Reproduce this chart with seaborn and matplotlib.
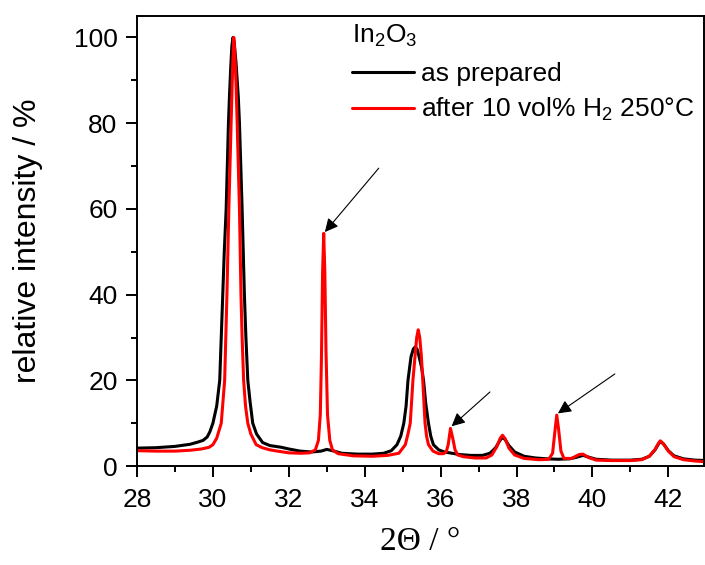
import matplotlib
matplotlib.use("Agg")
import matplotlib.pyplot as plt
import seaborn as sns
from matplotlib.ticker import MultipleLocator, AutoMinorLocator
from matplotlib.lines import Line2D

sns.set_style("ticks")
plt.rcParams['font.family'] = ['Liberation Sans', 'DejaVu Sans']
plt.rcParams['mathtext.fontset'] = 'custom'
plt.rcParams['mathtext.rm'] = 'Liberation Sans'
plt.rcParams['text.color'] = 'black'
plt.rcParams['axes.labelcolor'] = 'black'

# as prepared (black)
x_prep = [28.0, 28.5, 29.0, 29.4, 29.6, 29.74, 29.85, 29.92, 30.0, 30.1, 30.18,
          30.22, 30.26, 30.30, 30.35, 30.38, 30.41, 30.44, 30.47, 30.50, 30.53,
          30.56, 30.61, 30.67, 30.70, 30.735, 30.77, 30.80, 30.83, 30.87, 30.92,
          30.98, 31.05, 31.15, 31.31, 31.5, 31.8, 32.0, 32.3, 32.6, 32.85, 33.0,
          33.15, 33.4, 33.8, 34.2, 34.5, 34.7, 34.85, 34.95, 35.03, 35.09, 35.14,
          35.22, 35.28, 35.33, 35.38, 35.42, 35.5, 35.55, 35.61, 35.68, 35.74,
          35.81, 35.95, 36.1, 36.3, 36.5, 36.8, 37.1, 37.3, 37.45, 37.55, 37.62,
          37.7, 37.8, 37.95, 38.2, 38.5, 38.8, 39.1, 39.4, 39.6, 39.75, 39.9,
          40.1, 40.5, 41.0, 41.3, 41.5, 41.65, 41.75, 41.8, 41.88, 42.0, 42.15,
          42.4, 42.7, 43.0]
y_prep = [4.2, 4.3, 4.6, 5.1, 5.6, 6.0, 6.8, 8.0, 10, 14, 20,
          30, 40, 50, 60, 70, 80, 87, 93, 98, 100,
          99, 94, 86, 80, 70, 60, 50, 40, 30, 20,
          15, 10, 7.5, 5.5, 4.8, 4.4, 4.0, 3.5, 3.3, 3.5, 3.9,
          3.6, 3.0, 2.8, 2.8, 3.0, 3.6, 5.0, 7.0, 10, 14, 20,
          25.5, 27.3, 27.8, 27.3, 26, 23, 20, 14.5, 10, 7,
          5.0, 3.8, 3.3, 3.0, 2.7, 2.5, 2.5, 3.0, 4.3, 5.8, 6.7,
          6.2, 4.8, 3.3, 2.3, 1.9, 1.7, 1.6, 1.7, 2.1, 2.5, 2.1,
          1.6, 1.4, 1.4, 1.6, 2.3, 3.8, 5.3, 5.7, 5.1, 3.6, 2.4,
          1.7, 1.4, 1.3]

# after 10 vol% H2 250°C (red)
x_h2 = [28.0, 28.5, 29.0, 29.4, 29.7, 29.9, 30.0, 30.1, 30.22, 30.31, 30.34,
        30.37, 30.395, 30.42, 30.45, 30.48, 30.52, 30.55, 30.58, 30.61, 30.64,
        30.67, 30.70, 30.72, 30.74, 30.77, 30.81, 30.86, 30.92, 31.0, 31.14,
        31.3, 31.5, 31.7, 32.0, 32.3, 32.55, 32.7, 32.78, 32.83, 32.86, 32.89,
        32.92, 32.95, 32.98, 33.02, 33.08, 33.15, 33.3, 33.7, 34.2, 34.6, 34.9,
        35.07, 35.14, 35.2, 35.27, 35.33, 35.37, 35.41, 35.45, 35.49, 35.53,
        35.59, 35.63, 35.68, 35.8, 35.95, 36.08, 36.15, 36.2, 36.26, 36.32,
        36.38, 36.45, 36.6, 36.9, 37.2, 37.35, 37.48, 37.57, 37.63, 37.7,
        37.8, 37.95, 38.2, 38.6, 38.85, 38.95, 39.01, 39.06, 39.11, 39.17,
        39.25, 39.45, 39.65, 39.75, 39.9, 40.1, 40.5, 41.0, 41.3, 41.5, 41.65,
        41.75, 41.79, 41.86, 42.0, 42.15, 42.4, 42.7, 43.0]
y_h2 = [3.6, 3.5, 3.5, 3.7, 4.0, 4.4, 5.0, 6.5, 10, 20, 30,
        40, 50, 60, 70, 80, 93, 100, 96, 89, 80,
        70, 60, 50, 40, 30, 20, 14, 10, 7.5, 5.0,
        4.3, 3.8, 3.5, 3.1, 3.0, 3.1, 3.8, 6, 12, 25, 45,
        54.3, 45, 27, 12, 6, 3.8, 2.9, 2.4, 2.3, 2.5, 3.0,
        5.0, 7.5, 10, 20, 26, 30, 31.8, 30, 26, 20,
        10, 7, 5.0, 3.5, 2.9, 2.9, 3.4, 5, 8.8, 6.5,
        3.8, 2.6, 2.2, 1.9, 1.9, 2.6, 4.5, 6.5, 7.2, 6.4,
        4.2, 2.6, 1.8, 1.5, 1.6, 3, 8, 11.9, 8.5, 3.5,
        1.8, 1.8, 2.7, 2.8, 2.0, 1.4, 1.3, 1.3, 1.5, 2.3, 3.9,
        5.5, 5.9, 5.3, 3.5, 2.2, 1.5, 1.2, 1.0]

# arrows: (tip x, tip y, tail x, tail y)
arrows = [(32.95, 54.6, 34.37, 69.5),
          (36.29, 9.3, 37.30, 17.3),
          (39.09, 12.3, 40.59, 21.5)]

fig = plt.figure(figsize=(7.05, 5.65), dpi=100)
ax = fig.add_axes([0.1943, 0.175, 0.8043, 0.7967])

sns.lineplot(x=x_prep, y=y_prep, color='black', lw=2.2, ax=ax)
sns.lineplot(x=x_h2, y=y_h2, color='#ff0000', lw=2.2, ax=ax)

for tx, ty, sx, sy in arrows:
    ax.annotate('', xy=(tx, ty), xytext=(sx, sy),
                arrowprops=dict(arrowstyle='-|>', color='black', lw=0.8,
                                mutation_scale=20, shrinkA=0, shrinkB=0))

ax.set_xlim(28, 42.94)
ax.set_ylim(0, 105)
ax.xaxis.set_major_locator(MultipleLocator(2))
ax.xaxis.set_minor_locator(AutoMinorLocator(2))
ax.yaxis.set_major_locator(MultipleLocator(20))
ax.yaxis.set_minor_locator(AutoMinorLocator(2))

for s in ax.spines.values():
    s.set_visible(True)
    s.set_linewidth(1.4)
    s.set_color('black')

ax.tick_params(which='major', direction='out', length=8, width=1.4,
               labelsize=19, color='black', labelcolor='black')
ax.tick_params(which='minor', direction='out', length=4, width=1.4, color='black')
ax.tick_params(axis='y', which='major', pad=6)
ax.tick_params(axis='x', which='major', pad=8)

ax.set_xlabel('2Θ / °', fontsize=24, family=['Liberation Serif', 'DejaVu Serif'],
              labelpad=10, color='black')
ax.set_ylabel('relative intensity / %', fontsize=23, labelpad=22, color='black')

# legend title placed as its own text
fig.text(352 / 705, 1 - 43 / 565, 'In$\\mathregular{_2}$O$\\mathregular{_3}$',
         fontsize=19, ha='left', va='baseline', color='black')

handles = [Line2D([], [], color='black', lw=2.2),
           Line2D([], [], color='#ff0000', lw=2.2)]
labels = ['as prepared', 'after 10 vol% H$\\mathregular{_2}$ 250°C']
leg = ax.legend(handles, labels,
                loc='upper left', bbox_to_anchor=(352 / 705, 1 - 62 / 565),
                bbox_transform=fig.transFigure, frameon=False, fontsize=19,
                borderpad=0, borderaxespad=0, handlelength=2.35,
                handletextpad=0.26, labelspacing=0.37)
for t in leg.get_texts():
    t.set_color('black')

fig.savefig('out.png', dpi=100)
